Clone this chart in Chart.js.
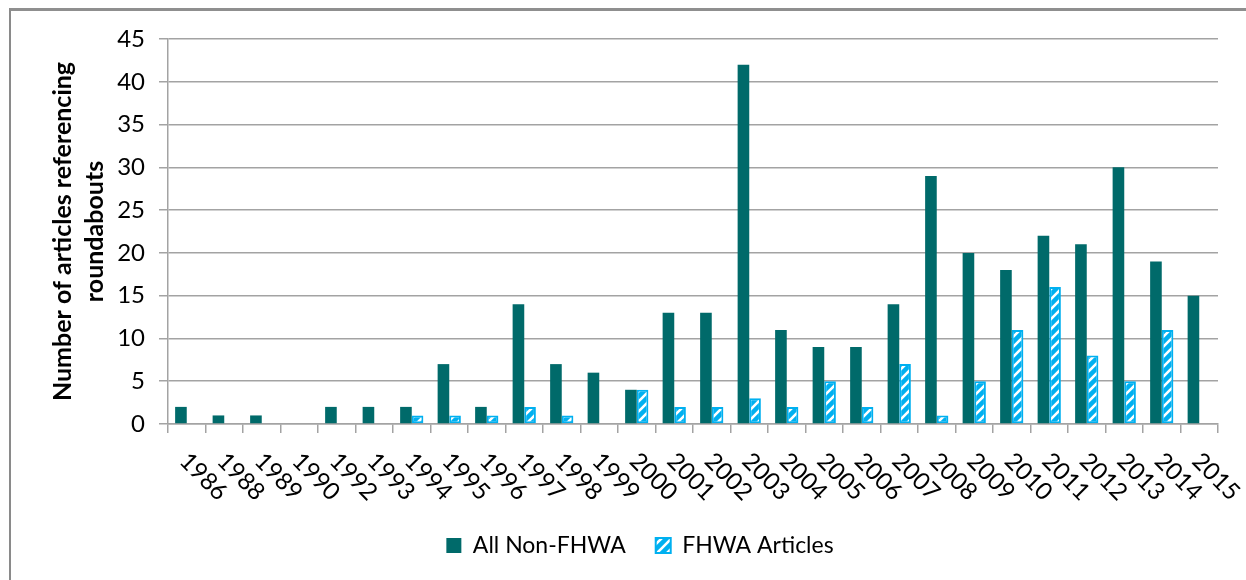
<!DOCTYPE html>
<html lang="en">
<head>
    <meta charset="UTF-8">
    <title>Articles referencing roundabouts</title>
    <script src="https://cdn.jsdelivr.net/npm/chart.js"></script>
    <style>
        html, body { margin: 0; padding: 0; background: #fff; overflow: hidden; }
        #wrap { position: relative; width: 1246px; height: 580px; }
        #frame { position: absolute; left: 9px; top: 8px; width: 1400px; height: 800px;
                 border-left: 2px solid #8a8a8a; border-top: 3px solid #8f8f8f; }
        #myChart { position: absolute; left: 0; top: 0; }
    </style>
</head>
<body>
<div id="wrap">
    <div id="frame"></div>
    <canvas id="myChart" width="1246" height="580"></canvas>
</div>

<script>
    // data
    const years = ['1986', '1988', '1989', '1990', '1992', '1993', '1994', '1995', '1996', '1997',
                   '1998', '1999', '2000', '2001', '2002', '2003', '2004', '2005', '2006', '2007',
                   '2008', '2009', '2010', '2011', '2012', '2013', '2014', '2015'];
    const nonFhwa = [2, 1, 1, 0, 2, 2, 2, 7, 2, 14,
                     7, 6, 4, 13, 13, 42, 11, 9, 9, 14,
                     29, 20, 18, 22, 21, 30, 19, 15];
    const fhwa = [null, null, null, null, null, null, 1, 1, 1, 2,
                  1, null, 4, 2, 2, 3, 2, 5, 2, 7,
                  1, 5, 11, 16, 8, 5, 11, null];
    const yMax = 45;
    const yStep = 5;

    const FONT = 'Lato, "Open Sans", sans-serif';
    const gridColor = '#a3a3a3';

    // hatch pattern for the FHWA bars (white upward diagonals on blue)
    function makeHatch() {
        const c = document.createElement('canvas');
        c.width = 10; c.height = 10;
        const g = c.getContext('2d');
        g.fillStyle = '#00b0f0';
        g.fillRect(0, 0, 10, 10);
        g.strokeStyle = '#ffffff';
        g.lineWidth = 2.6;
        g.beginPath();
        g.moveTo(-5, 5); g.lineTo(5, -5);
        g.moveTo(0, 10); g.lineTo(10, 0);
        g.moveTo(5, 15); g.lineTo(15, 5);
        g.stroke();
        return g.createPattern(c, 'repeat');
    }

    // rotated (clockwise) year labels under the x axis
    const yearLabels = {
        id: 'yearLabels',
        afterDraw(chart) {
            const { ctx, scales: { x } } = chart;
            ctx.save();
            ctx.font = '24px ' + FONT;
            ctx.fillStyle = '#000';
            ctx.textAlign = 'left';
            ctx.textBaseline = 'middle';
            years.forEach((lab, i) => {
                const px = x.getPixelForValue(i);
                ctx.save();
                ctx.translate(px - 3, 457);
                ctx.rotate(Math.PI / 4);
                ctx.fillText(lab, 0, 0);
                ctx.restore();
            });
            ctx.restore();
        }
    };

    const config = {
        type: 'bar',
        data: {
            labels: years,
            datasets: [
                {
                    label: 'All Non-FHWA',
                    data: nonFhwa,
                    backgroundColor: '#006a6a',
                    borderWidth: 0
                },
                {
                    label: 'FHWA Articles',
                    data: fhwa,
                    backgroundColor: makeHatch(),
                    borderColor: '#00b0f0',
                    borderWidth: 2,
                    borderSkipped: false
                }
            ]
        },
        options: {
            responsive: false,
            animation: false,
            categoryPercentage: 0.62,
            barPercentage: 1.0,
            layout: { padding: { left: 62, top: 39, right: 28, bottom: 13 } },
            plugins: {
                tooltip: { enabled: false },
                legend: {
                    position: 'bottom',
                    labels: {
                        boxWidth: 15,
                        boxHeight: 15,
                        padding: 30,
                        color: '#000',
                        font: { family: FONT, size: 23 }
                    }
                }
            },
            scales: {
                x: {
                    grid: {
                        offset: true,
                        drawOnChartArea: false,
                        drawTicks: true,
                        tickLength: 9,
                        color: gridColor,
                        lineWidth: 1.5
                    },
                    border: { display: true, color: gridColor, width: 1.5 },
                    ticks: { display: false },
                    afterFit: s => { s.height = 80; }
                },
                y: {
                    min: 0,
                    max: yMax,
                    ticks: {
                        stepSize: yStep,
                        padding: 14,
                        color: '#000',
                        font: { family: FONT, size: 24 }
                    },
                    grid: {
                        color: gridColor,
                        lineWidth: 1.5,
                        tickLength: 9
                    },
                    border: { display: true, color: gridColor, width: 1.5 },
                    title: {
                        display: true,
                        text: ['Number of articles referencing', 'roundabouts'],
                        color: '#000',
                        font: { family: FONT, size: 25, weight: 'bold', lineHeight: 1.28 },
                        padding: { top: -15, bottom: 0 }
                    },
                    afterFit: s => { s.width = 106; }
                }
            }
        },
        plugins: [yearLabels]
    };

    new Chart(document.getElementById('myChart').getContext('2d'), config);
</script>
</body>
</html>
